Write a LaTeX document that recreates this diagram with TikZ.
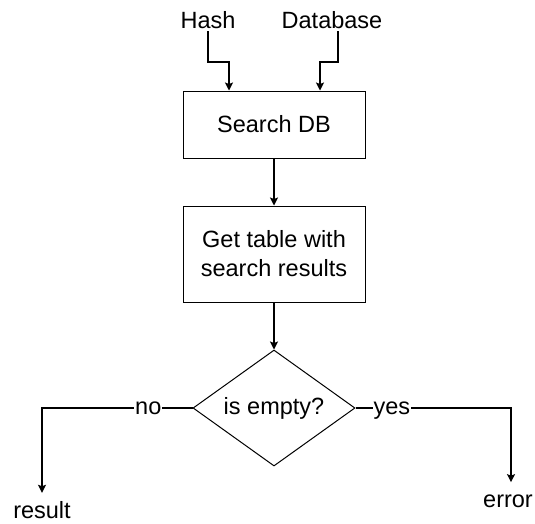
\documentclass[tikz,border=0pt]{standalone}
\usepackage{fontspec}
\setmainfont{Liberation Sans}
\usetikzlibrary{arrows.meta,shapes.geometric,calc}

\tikzset{
  procbox/.style={draw, line width=1pt, minimum width=182pt, align=center},
  decision/.style={draw, line width=1pt, diamond, shape aspect=1.4, inner sep=0pt,
                   minimum width=162pt, minimum height=116pt},
  label text/.style={inner sep=3pt},
  flow/.style={line width=1.3pt, -{Stealth[length=8pt,width=8pt,inset=1.5pt]}},
  branch tag/.style={fill=white, inner sep=1pt}
}

\begin{document}
\begin{tikzpicture}[x=1pt, y=-1pt, font=\fontsize{23.5}{29}\selectfont]
  \useasboundingbox (0,0) rectangle (535,523);

  % inputs
  \node[label text, anchor=base] (hash) at (208,28) {Hash};
  \node[label text, anchor=base] (db) at (332,28) {Database};

  % process steps
  \node[procbox, minimum height=67pt] (search) at (274,124.5) {Search DB};
  \node[procbox, minimum height=96pt] (table) at (274,254) {Get table with\\search results};

  % decision
  \node[decision] (empty) at (274,408) {is empty?};

  % outcomes
  \node[anchor=base, inner xsep=2pt, inner ysep=8pt] (result) at (42,518) {result};
  \node[anchor=base, inner xsep=2pt, inner ysep=12pt] (error) at (508,507) {error};

  % elbow points of the input connectors
  \coordinate (hj) at (229,62);
  \coordinate (dj) at (320,62);

  \draw[flow] (hash.south) |- (hj) -- (hj |- search.north);
  \draw[flow] ([xshift=6pt]db.south) |- (dj) -- (dj |- search.north);
  \draw[flow] (search) -- (table);
  \draw[flow] (table) -- (empty);
  \draw[flow] (empty.west) -| node[branch tag, pos=0.147] {no} (result.north);
  \draw[flow] (empty.east) -| node[branch tag, pos=0.117, yshift=-2.5pt] {yes} ([xshift=3pt]error.north);
\end{tikzpicture}
\end{document}
